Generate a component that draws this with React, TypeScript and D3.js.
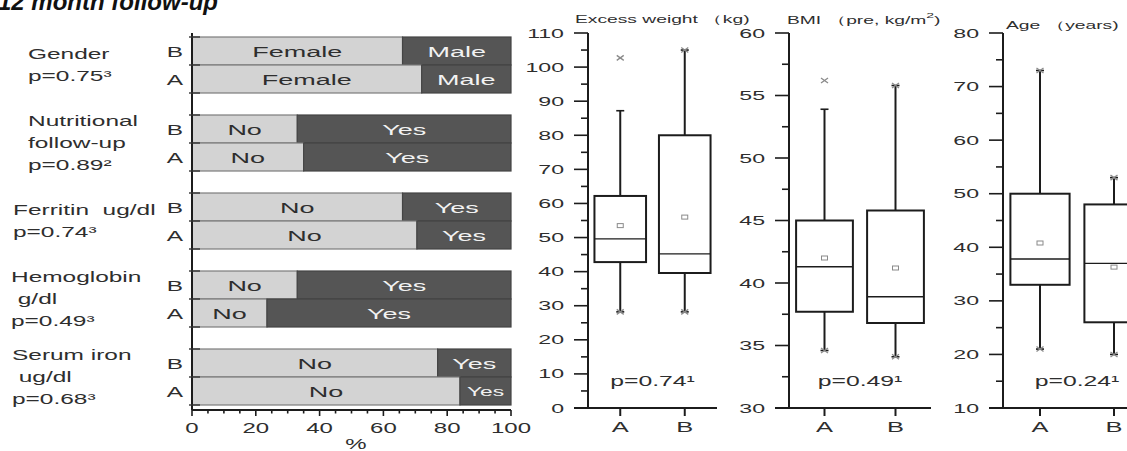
import React from 'react';
import * as d3 from 'd3';

const FONT = '"Liberation Sans", Arial, Helvetica, sans-serif';

// ---- stacked share bars (per group A / B) ----
const barCategories = ['Gender', 'Nutritional follow-up', 'Ferritin', 'Hemoglobin', 'Serum iron'];
const barGroups = ['B', 'A'];
const lowerLevel = ['Female', 'No', 'No', 'No', 'No'];
const upperLevel = ['Male', 'Yes', 'Yes', 'Yes', 'Yes'];
const lowerShareB = [66, 33, 66, 33, 77];
const lowerShareA = [72, 35, 70.5, 23.5, 84];
const categoryLines = [
  ['Gender', 'p=0.75³'],
  ['Nutritional', 'follow-up', 'p=0.89²'],
  ['Ferritin  ug/dl', 'p=0.74³'],
  ['Hemoglobin', ' g/dl', 'p=0.49³'],
  ['Serum iron', ' ug/dl', 'p=0.68³'],
];
const percentTicks = [0, 20, 40, 60, 80, 100];

// ---- box plots ----
const boxGroups = ['A', 'B'];
const excessWeight = [
  { group: 'A', low: 28.2, q1: 42.8, median: 49.6, q3: 62.2, high: 87.2, mean: 53.5, min: 28.2, max: 102.7 },
  { group: 'B', low: 28.2, q1: 39.6, median: 45.2, q3: 80, high: 105, mean: 56, min: 28.2, max: 105 },
];
const bmiPre = [
  { group: 'A', low: 34.6, q1: 37.7, median: 41.3, q3: 45, high: 53.9, mean: 42, min: 34.6, max: 56.2 },
  { group: 'B', low: 34.1, q1: 36.8, median: 38.9, q3: 45.8, high: 55.8, mean: 41.2, min: 34.1, max: 55.8 },
];
const ageYears = [
  { group: 'A', low: 21, q1: 33, median: 37.8, q3: 50, high: 73, mean: 40.8, min: 21, max: 73 },
  { group: 'B', low: 20, q1: 26, median: 37, q3: 48, high: 53, mean: 36.3, min: 20, max: 53 },
];
const excessTicks = [0, 10, 20, 30, 40, 50, 60, 70, 80, 90, 100, 110];
const bmiTicks = [30, 35, 40, 45, 50, 55, 60];
const ageTicks = [10, 20, 30, 40, 50, 60, 70, 80];
const boxPValues = ['p=0.74¹', 'p=0.49¹', 'p=0.24¹'];

type Stat = typeof excessWeight[number];

const TEXT = '#2e2e2e';

// Horizontally stretched text, anchored at (x, y)
function SText({ x, y, children, size = 15, sx = 1.65, anchor = 'start', fill = TEXT }: any) {
  return (
    <text
      transform={`translate(${x},${y}) scale(${sx},1)`}
      textAnchor={anchor}
      fontSize={size}
      fill={fill}
      style={{ whiteSpace: 'pre' }}
    >
      {children}
    </text>
  );
}

function BoxPanel({ stats, ticks, axisX, width, pText, title }: { stats: Stat[]; ticks: number[]; axisX: number; width: number; pText: string; title: React.ReactNode }) {
  const y = d3.scaleLinear().domain([ticks[0], ticks[ticks.length - 1]]).range([408, 33]);
  const x = d3.scalePoint<string>().domain(boxGroups).range([axisX, axisX + width]).padding(0.5);
  const boxW = x.step() * 0.8;
  const minor = ticks.slice(1).map((t, i) => (t + ticks[i]) / 2);
  const ink = '#1c1c1c';
  const cross = (cx: number, cy: number, k: string) => (
    <g key={k} stroke="#8a8a8a" strokeWidth={1.3}>
      <line x1={cx - 3.5} x2={cx + 3.5} y1={cy - 2.5} y2={cy + 2.5} />
      <line x1={cx - 3.5} x2={cx + 3.5} y1={cy + 2.5} y2={cy - 2.5} />
    </g>
  );
  return (
    <g>
      {title}
      {/* axes */}
      <line x1={axisX} x2={axisX} y1={y.range()[1]} y2={y.range()[0]} stroke={ink} strokeWidth={2} />
      <line x1={axisX - 14} x2={axisX + width} y1={y.range()[0]} y2={y.range()[0]} stroke={ink} strokeWidth={2} />
      {ticks.map((t) => (
        <g key={`t${t}`}>
          <line x1={axisX - 14} x2={axisX} y1={y(t)} y2={y(t)} stroke={ink} strokeWidth={1.6} />
          <SText x={axisX - 24} y={y(t) + 4.5} size={13} sx={1.78} anchor="end">{String(t)}</SText>
        </g>
      ))}
      {minor.map((t) => (
        <line key={`m${t}`} x1={axisX - 7} x2={axisX} y1={y(t)} y2={y(t)} stroke={ink} strokeWidth={1.6} />
      ))}
      {boxGroups.map((g) => (
        <g key={`x${g}`}>
          <line x1={x(g)!} x2={x(g)!} y1={408} y2={416} stroke={ink} strokeWidth={2} />
          <SText x={x(g)!} y={432} anchor="middle" sx={1.7}>{g}</SText>
        </g>
      ))}
      {/* boxes */}
      {stats.map((s) => {
        const cx = x(s.group)!;
        return (
          <g key={s.group}>
            <line x1={cx} x2={cx} y1={y(s.high)} y2={y(s.q3)} stroke={ink} strokeWidth={2} />
            <line x1={cx} x2={cx} y1={y(s.q1)} y2={y(s.low)} stroke={ink} strokeWidth={2} />
            <line x1={cx - 4} x2={cx + 4} y1={y(s.high)} y2={y(s.high)} stroke={ink} strokeWidth={1.6} />
            <line x1={cx - 4} x2={cx + 4} y1={y(s.low)} y2={y(s.low)} stroke={ink} strokeWidth={1.6} />
            <rect x={cx - boxW / 2} y={y(s.q3)} width={boxW} height={y(s.q1) - y(s.q3)} fill="#fff" stroke={ink} strokeWidth={2} />
            <line x1={cx - boxW / 2} x2={cx + boxW / 2} y1={y(s.median)} y2={y(s.median)} stroke={ink} strokeWidth={1.4} />
            <rect x={cx - 3} y={y(s.mean) - 2} width={6} height={4} fill="none" stroke="#8a8a8a" strokeWidth={1} />
            {cross(cx, y(s.max), 'mx')}
            {cross(cx, y(s.min), 'mn')}
          </g>
        );
      })}
      <SText x={axisX + width / 2} y={386} anchor="middle" sx={1.65}>{pText}</SText>
    </g>
  );
}

export default function App() {
  const xPct = d3.scaleLinear().domain([0, 100]).range([192, 511]);
  const yCat = d3.scaleBand<string>().domain(barCategories).range([37, 405]).paddingInner(22 / 78);
  const yGrp = d3.scaleBand<string>().domain(barGroups).range([0, yCat.bandwidth()]);
  const ink = '#1c1c1c';
  const labelIndent = [28, 28, 13, 11, 12];
  const minorPct = xPct.ticks(20);

  return (
    <svg
      width={1127}
      height={451}
      style={{ position: 'fixed', left: 0, top: 0, background: '#fff' }}
      fontFamily={FONT}
    >
      <rect width={1127} height={451} fill="#fff" />
      <text x={-2} y={10} fontSize={24} fontWeight="bold" fontStyle="italic" fill="#111" fontFamily={FONT}>
        12 month follow-up
      </text>

      {/* category labels */}
      {barCategories.map((c, i) => {
        const lines = categoryLines[i];
        const mid = yCat(c)! + yCat.bandwidth() / 2 + 5;
        return lines.map((ln, j) => (
          <SText key={`${c}${j}`} x={labelIndent[i]} y={mid + (j - (lines.length - 1) / 2) * 22} sx={1.63}>
            {ln}
          </SText>
        ));
      })}

      {/* stacked bars */}
      {barCategories.map((c, i) =>
        barGroups.map((g) => {
          const share = g === 'B' ? lowerShareB[i] : lowerShareA[i];
          const y0 = yCat(c)! + yGrp(g)!;
          const h = yGrp.bandwidth();
          const xs = xPct(share);
          const upperW = xPct(100) - xs;
          return (
            <g key={`${c}${g}`}>
              <rect x={xPct(0)} y={y0} width={xs - xPct(0)} height={h} fill="#d3d3d3" stroke="#7c7c7c" strokeWidth={1.2} />
              <rect x={xs} y={y0} width={upperW} height={h} fill="#555555" stroke="#444" strokeWidth={1.2} />
              <SText x={(xPct(0) + xs) / 2} y={y0 + h / 2 + 5.5} anchor="middle" sx={1.8}>
                {lowerLevel[i]}
              </SText>
              <SText
                x={(xs + xPct(100)) / 2}
                y={y0 + h / 2 + (upperW < 60 ? 4.5 : 5.5)}
                anchor="middle"
                sx={upperW < 60 ? 1.9 : 1.8}
                size={upperW < 60 ? 12 : 15}
                fill="#f2f2f2"
              >
                {upperLevel[i]}
              </SText>
              <SText x={183} y={y0 + h / 2 + 5.5} anchor="end" sx={1.63}>{g}</SText>
            </g>
          );
        })
      )}

      {/* category axis */}
      <line x1={xPct(0)} x2={xPct(0)} y1={33} y2={410} stroke={ink} strokeWidth={2} />
      {barCategories.map((c) =>
        [0, yGrp.bandwidth(), yCat.bandwidth()].map((off) => (
          <line key={`${c}${off}`} x1={189} x2={200} y1={yCat(c)! + off} y2={yCat(c)! + off} stroke="#333" strokeWidth={1.4} />
        ))
      )}

      {/* percent axis */}
      <line x1={xPct(0)} x2={xPct(100)} y1={410} y2={410} stroke={ink} strokeWidth={2} />
      {minorPct.map((t) => (
        <line key={`p${t}`} x1={xPct(t)} x2={xPct(t)} y1={410} y2={t % 20 === 0 ? 416 : 413.5} stroke={ink} strokeWidth={1.6} />
      ))}
      {percentTicks.map((t) => (
        <SText key={`pl${t}`} x={xPct(t)} y={433} anchor="middle" sx={1.6}>{String(t)}</SText>
      ))}
      <SText x={356} y={449} anchor="middle" sx={1.6}>%</SText>

      {/* box plots */}
      <BoxPanel
        stats={excessWeight}
        ticks={excessTicks}
        axisX={588}
        width={129}
        pText={boxPValues[0]}
        title={<SText x={575} y={23} size={11} sx={1.75}>Excess weight （kg)</SText>}
      />
      <BoxPanel
        stats={bmiPre}
        ticks={bmiTicks}
        axisX={789}
        width={142}
        pText={boxPValues[1]}
        title={
          <text transform="translate(787,24) scale(1.75,1)" fontSize={11} fill={TEXT} style={{ whiteSpace: 'pre' }}>
            BMI （pre, kg/m<tspan dy={-6} fontSize={8}>2</tspan><tspan dy={6}>)</tspan>
          </text>
        }
      />
      <BoxPanel
        stats={ageYears}
        ticks={ageTicks}
        axisX={1003}
        width={148}
        pText={boxPValues[2]}
        title={<SText x={1006} y={29} size={11} sx={1.75}>Age （years)</SText>}
      />
    </svg>
  );
}
